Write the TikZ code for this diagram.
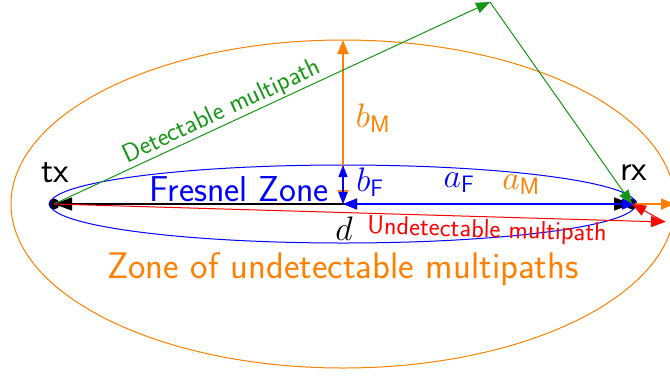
\RequirePackage{fix-cm}
\documentclass[tikz,border=0pt]{standalone}
\usetikzlibrary{arrows.meta}
\definecolor{zorange}{RGB}{255,128,0}
\definecolor{zgreen}{RGB}{20,150,20}
\begin{document}
\begin{tikzpicture}[x=1pt,y=-1pt,
  every node/.style={font=\sffamily\fontsize{36}{42}\selectfont, inner sep=0pt},
  tipend/.style={-{Triangle[length=14pt,width=11pt]}},
  dtip/.style={{Triangle[length=14pt,width=11pt]}-{Triangle[length=14pt,width=11pt]}},
  smalltext/.style={font=\sffamily\fontsize{26}{30}\selectfont},
  bigtext/.style={font=\sffamily\fontsize{37}{44}\selectfont},
  mathtext/.style={font=\fontsize{34}{40}\selectfont},
  dotnode/.style={circle, fill=black, minimum size=11pt, inner sep=0pt},
]
\useasboundingbox (0,0) rectangle (670,376);
% points
\node[dotnode] (tx) at (54,204) {};
\node[dotnode] (rx) at (632,204) {};
\coordinate (C) at (343,204);
\coordinate (endF) at (636,204);
\coordinate (endM) at (675,204);
\coordinate (topF) at (343,165);
\coordinate (topM) at (343,40);
\coordinate (apex) at (490,2);
\coordinate (redend) at (665,222);
% ellipses
\draw[zorange, line width=1pt] (C) ellipse [x radius=332pt, y radius=164pt];
\draw[blue, line width=1pt] (C) ellipse [x radius=293pt, y radius=39pt];
% orange arrows
\draw[zorange, line width=2pt, dtip] (C) -- (topM);
\draw[zorange, line width=1.2pt, dtip] (C) -- (endM);
% black d
\draw[black, line width=1.2pt, {Triangle[length=18pt,width=13pt]}-{Triangle[length=18pt,width=13pt]}] (tx.center) -- (rx.center);
% blue arrows
\draw[blue, line width=1.2pt, dtip] (C) -- (endF);
\draw[blue, line width=1.2pt, {Triangle[length=12pt,width=9pt]}-{Triangle[length=12pt,width=9pt]}] (C) -- (topF);
% green multipath
\draw[zgreen, line width=1pt, tipend] (tx.center) -- (apex);
\draw[zgreen, line width=1pt, tipend] (apex) -- (rx.center);
% red multipath
\draw[red, line width=1pt, tipend] (tx.center) -- (redend);
\draw[red, line width=1pt, tipend] (redend) -- (rx.center);
% labels
\node (ltx) at (55,173) {tx};
\node (lrx) at (634,173) {rx};
\node[blue] (lfz) at (239,189) {Fresnel Zone};
\node[zorange, bigtext] (lzu) at (343,269) {Zone of undetectable multipaths};
\node[zorange, mathtext] (lbm) at (373,118) {$b_{\mathsf{M}}$};
\node[blue, mathtext] (lbf) at (370,182) {$b_{\mathsf{F}}$};
\node[blue, mathtext] (laf) at (459,183) {$a_{\mathsf{F}}$};
\node[zorange, mathtext] (lam) at (521,185) {$a_{\mathsf{M}}$};
\node[mathtext] (ld) at (344,229) {$d$};
\node[zgreen, smalltext, rotate=24.9] (ldm) at (222,112) {Detectable multipath};
\node[red, smalltext, rotate=-1.7] (lum) at (487,231) {Undetectable multipath};
\end{tikzpicture}
\end{document}
